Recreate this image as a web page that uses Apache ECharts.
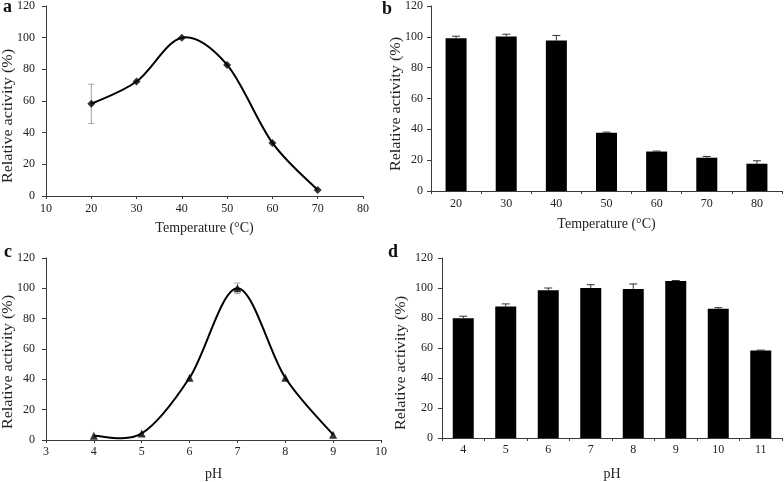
<!DOCTYPE html>
<html>
<head>
<meta charset="utf-8">
<script src="https://cdn.jsdelivr.net/npm/echarts@6/dist/echarts.min.js"></script>
<style>
html,body{margin:0;padding:0;background:#fff;}
#chart{width:784px;height:482px;}
</style>
</head>
<body>
<div id="chart"></div>
<script>
// Panel a: temperature optimum
const tempA = [20, 30, 40, 50, 60, 70];
const actA = [58.2, 72.3, 100, 82.8, 33.5, 3.8];
const errA = [12.4, 0, 0, 0, 0, 0];
// Panel b: thermostability
const tempB = ['20', '30', '40', '50', '60', '70', '80'];
const actB = [99.1, 100.2, 97.6, 37.8, 25.6, 21.6, 17.7];
const errB = [1.3, 1.5, 3.3, 0.4, 0.3, 0.8, 1.9];
// Panel c: pH optimum
const phC = [4, 5, 6, 7, 8, 9];
const actC = [2.8, 4.3, 41, 100, 41, 3.5];
const errC = [0, 0, 0, 3.5, 0, 0];
// Panel d: pH stability
const phD = ['4', '5', '6', '7', '8', '9', '10', '11'];
const actD = [79.9, 87.6, 98.5, 100, 99.4, 104.6, 86.1, 58.3];
const errD = [1.3, 1.8, 1.5, 2.2, 3.3, 0.4, 0.8, 0.3];

const yTicks = { min: 0, max: 120, interval: 20 };
const FONT = 'Liberation Serif';
const AX = '#3a3a3a';
const TXT = '#222';

const chart = echarts.init(document.getElementById('chart'), null, { renderer: 'canvas' });

function errRender(color, bothWays, capW) {
  return function (params, api) {
    const x = api.value(0), y = api.value(1), e = api.value(2);
    if (!e) return null;
    const top = api.coord([x, y + e]);
    const mid = api.coord([x, y]);
    const bot = api.coord([x, y - e]);
    const lowY = bothWays ? bot[1] : mid[1];
    const st = { stroke: color, lineWidth: 1 };
    const children = [
      { type: 'line', shape: { x1: top[0], y1: top[1], x2: top[0], y2: lowY }, style: st },
      { type: 'line', shape: { x1: top[0] - capW, y1: top[1], x2: top[0] + capW, y2: top[1] }, style: st }
    ];
    if (bothWays) children.push({ type: 'line', shape: { x1: bot[0] - capW, y1: bot[1], x2: bot[0] + capW, y2: bot[1] }, style: st });
    return { type: 'group', children: children };
  };
}

// Smooth (Catmull-Rom style) curve segment between point i and i+1, via axis coords
function curveRender(xs, ys) {
  return function (params, api) {
    const i = params.dataIndex;
    const n = xs.length;
    if (i >= n - 1) return null;
    const c = k => api.coord([xs[Math.max(0, Math.min(n - 1, k))], ys[Math.max(0, Math.min(n - 1, k))]]);
    const p0 = c(i - 1), p1 = c(i), p2 = c(i + 1), p3 = c(i + 2);
    const t = 1 / 6;
    return {
      type: 'bezierCurve',
      shape: {
        x1: p1[0], y1: p1[1], x2: p2[0], y2: p2[1],
        cpx1: p1[0] + (p2[0] - p0[0]) * t, cpy1: p1[1] + (p2[1] - p0[1]) * t,
        cpx2: p2[0] - (p3[0] - p1[0]) * t, cpy2: p2[1] - (p3[1] - p1[1]) * t
      },
      style: { stroke: '#000', lineWidth: 2, fill: null }
    };
  };
}

function yAxisCfg(gi, margin) {
  return {
    gridIndex: gi, type: 'value', min: yTicks.min, max: yTicks.max, interval: yTicks.interval,
    axisLine: { show: true, lineStyle: { color: AX, width: 1 } },
    axisTick: { show: true, inside: false, length: 4, lineStyle: { color: AX } },
    splitLine: { show: false },
    axisLabel: { color: TXT, fontFamily: FONT, fontSize: 12, margin: margin }
  };
}
function xNameCfg(name, gap) {
  return { name: name, nameLocation: 'middle', nameGap: gap,
    nameTextStyle: { color: TXT, fontFamily: FONT, fontSize: 14 } };
}
function yName(x, y) {
  return { type: 'text', x: x, y: y, rotation: Math.PI / 2, scaleX: 1.15, scaleY: 1,
    style: { text: 'Relative activity (%)', font: '14px "Liberation Serif"', fill: TXT, align: 'center', verticalAlign: 'middle' } };
}
function letter(ch, left, top) {
  return { type: 'text', left: left, top: top, style: { text: ch, font: 'bold 18px "Liberation Serif"', fill: '#111' } };
}

const option = {
  animation: false,
  backgroundColor: '#fff',
  grid: [
    { left: 46, top: 5, width: 317, height: 191 },
    { left: 431, top: 5, width: 351, height: 186 },
    { left: 46, top: 258, width: 335, height: 186 },
    { left: 442, top: 258, width: 340, height: 184 }
  ],
  xAxis: [
    Object.assign({ gridIndex: 0, type: 'value', min: 10, max: 80, interval: 10,
      axisLine: { lineStyle: { color: AX } }, axisTick: { show: true, length: 3, lineStyle: { color: AX } },
      splitLine: { show: false },
      axisLabel: { color: TXT, fontFamily: FONT, fontSize: 12, margin: 7 } }, xNameCfg('Temperature (°C)', 25)),
    Object.assign({ gridIndex: 1, type: 'category', data: tempB,
      axisLine: { lineStyle: { color: AX } }, axisTick: { show: true, length: 3, lineStyle: { color: AX } },
      axisLabel: { color: TXT, fontFamily: FONT, fontSize: 12, margin: 7 } }, xNameCfg('Temperature (°C)', 26)),
    Object.assign({ gridIndex: 2, type: 'value', min: 3, max: 10, interval: 1,
      axisLine: { lineStyle: { color: AX } }, axisTick: { show: true, length: 3, lineStyle: { color: AX } },
      splitLine: { show: false },
      axisLabel: { color: TXT, fontFamily: FONT, fontSize: 12, margin: 6 } }, xNameCfg('pH', 27)),
    Object.assign({ gridIndex: 3, type: 'category', data: phD,
      axisLine: { lineStyle: { color: AX } }, axisTick: { show: true, length: 3, lineStyle: { color: AX } },
      axisLabel: { color: TXT, fontFamily: FONT, fontSize: 12, margin: 6 } }, xNameCfg('pH', 29))
  ],
  yAxis: [yAxisCfg(0, 11), yAxisCfg(1, 8), yAxisCfg(2, 11), yAxisCfg(3, 9)],
  graphic: [
    letter('a', 3, -2), letter('b', 382, 0), letter('c', 4, 243), letter('d', 388, 243),
    yName(8, 116), yName(396, 104), yName(8, 362), yName(401, 363)
  ],
  series: [
    { type: 'custom', xAxisIndex: 0, yAxisIndex: 0, z: 1,
      renderItem: errRender('#a0a0a0', true, 3),
      data: tempA.map((t, i) => [t, actA[i], errA[i]]) },
    { type: 'custom', xAxisIndex: 0, yAxisIndex: 0, z: 2,
      renderItem: curveRender(tempA, actA),
      data: tempA.map((t, i) => [t, actA[i]]) },
    { type: 'scatter', xAxisIndex: 0, yAxisIndex: 0, z: 3,
      symbol: 'diamond', symbolSize: 8, itemStyle: { color: '#000' },
      data: tempA.map((t, i) => [t, actA[i]]) },
    { type: 'bar', xAxisIndex: 1, yAxisIndex: 1, barWidth: 21, itemStyle: { color: '#000' },
      data: actB },
    { type: 'custom', xAxisIndex: 1, yAxisIndex: 1, z: 3,
      renderItem: errRender('#333', false, 4),
      data: actB.map((v, i) => [i, v, errB[i]]) },
    { type: 'custom', xAxisIndex: 2, yAxisIndex: 2, z: 1,
      renderItem: errRender('#a0a0a0', true, 3),
      data: phC.map((p, i) => [p, actC[i], errC[i]]) },
    { type: 'custom', xAxisIndex: 2, yAxisIndex: 2, z: 2,
      renderItem: curveRender(phC, actC),
      data: phC.map((p, i) => [p, actC[i]]) },
    { type: 'scatter', xAxisIndex: 2, yAxisIndex: 2, z: 3,
      symbol: 'triangle', symbolSize: 8, itemStyle: { color: '#000' },
      data: phC.map((p, i) => [p, actC[i]]) },
    { type: 'bar', xAxisIndex: 3, yAxisIndex: 3, barWidth: 21, itemStyle: { color: '#000' },
      data: actD },
    { type: 'custom', xAxisIndex: 3, yAxisIndex: 3, z: 3,
      renderItem: errRender('#333', false, 4),
      data: actD.map((v, i) => [i, v, errD[i]]) }
  ]
};
chart.setOption(option);
</script>
</body>
</html>
